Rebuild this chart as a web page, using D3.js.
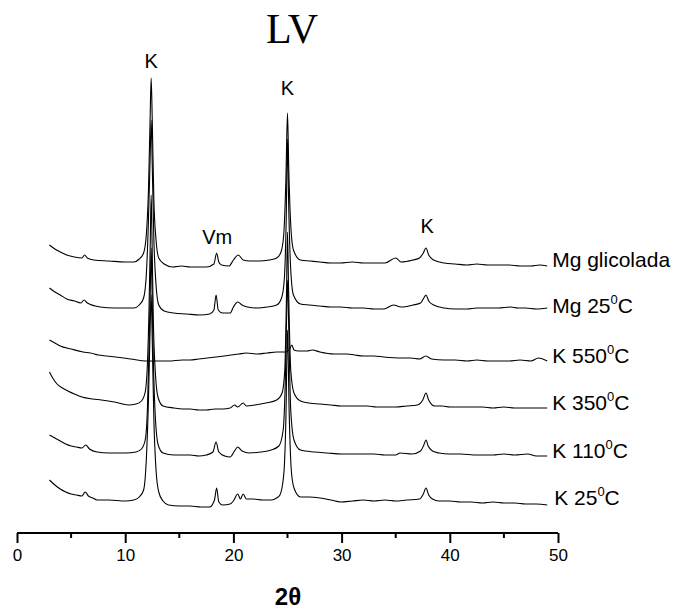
<!DOCTYPE html>
<html>
<head>
<meta charset="utf-8">
<script src="https://cdn.jsdelivr.net/npm/d3@7"></script>
<style>
  html, body { margin: 0; padding: 0; background: #fff; }
  svg { display: block; }
</style>
</head>
<body>
<svg id="chart" width="679" height="609"></svg>
<script>
// Diffractograms of sample LV, stacked with a vertical offset per treatment.
// Each series is a list of [2θ (degrees), relative intensity above its own baseline].

const seriesNames = ["Mg glicolada", "Mg 25", "K 550", "K 350", "K 110", "K 25"];
const seriesOffsets = [271, 225, 175, 128, 80, 33];

const mgGlicolada = [
  [3.0,17],[3.5,13],[4.0,10],[4.6,7],[5.3,5],[6.0,4],[6.25,7],[6.5,4],[7.1,2],[8.5,1],
  [10.0,0],[10.8,0],[11.3,3],[11.7,9],[11.95,27],[12.15,72],[12.3,142],[12.4,184],[12.5,142],
  [12.65,62],[12.85,22],[13.1,4],[13.6,-2],[14.4,-5],[15.2,-4],[16.0,-5],[17.5,-5],[18.2,-2],
  [18.45,9],[18.65,0],[18.9,-3],[19.6,-4],[20.0,2],[20.45,7],[20.9,2],[21.5,1],[22.4,1],
  [23.3,2],[24.0,4],[24.4,10],[24.65,27],[24.85,82],[25.0,149],[25.12,92],[25.3,37],[25.55,12],
  [26.2,2],[27.1,1],[28.0,0],[29.0,-1],[29.9,-1],[31.0,0],[32.0,-1],[33.0,-1],[34.0,-1],[35.0,4],[35.5,0],
  [36.6,2],[37.2,4],[37.55,9],[37.8,14],[38.05,7],[38.5,2],[39.5,-1],[40.5,-2],[41.6,-3],
  [42.5,-2],[43.5,-3],[44.5,-3],[45.5,-3],[46.5,-4],[47.5,-4],[48.3,-3],[49.0,-4]
];

const mg25 = [
  [3.0,20],[3.5,16],[4.0,13],[4.6,9],[5.3,7],[5.9,5],[6.2,8],[6.5,5],[7.7,1],[9.0,0],
  [10.8,0],[11.3,3],[11.7,10],[11.95,33],[12.15,88],[12.3,148],[12.4,188],[12.5,143],
  [12.65,68],[12.85,23],[13.1,3],[13.6,-3],[14.5,-5],[15.7,-6],[16.9,-7],[17.8,-6],[18.2,-2],
  [18.4,13],[18.6,-2],[19.0,-5],[19.7,-5],[20.0,1],[20.4,6],[20.8,3],[21.3,1],[22.2,0],
  [23.1,1],[24.0,3],[24.45,10],[24.7,28],[24.88,88],[25.0,169],[25.1,108],[25.3,38],[25.55,13],
  [26.2,4],[27.0,3],[28.0,2],[29.0,1],[29.9,1],[31.0,0],[32.0,0],[33.0,-1],[33.9,-1],[34.8,3],
  [35.5,1],[36.6,3],[37.3,5],[37.6,10],[37.8,13],[38.05,7],[38.5,3],[39.5,0],[40.5,-1],
  [41.6,-1],[42.5,0],[43.5,0],[44.5,0],[45.6,1],[46.3,0],[47.0,0],[48.0,-1],[49.0,0]
];

const k550 = [
  [3.0,18],[3.5,15],[4.0,12],[5.0,9],[6.1,6],[6.8,5],[7.5,3],[8.3,2],[9.1,1],[10.5,-1],
  [11.9,-3],[13.0,-3],[14.0,-3],[15.3,-2],[16.0,-2],[16.8,-1],[17.6,0],[18.4,1],[19.8,3],
  [20.5,4],[21.2,5],[22.2,4],[23.1,5],[24.0,6],[24.8,6],[25.2,9],[25.4,13],[25.6,8],[26.0,7],
  [26.8,7],[27.3,8],[28.0,6],[29.3,4],[30.5,4],[31.2,3],[32.0,2],[33.0,2],[33.9,1],[35.5,0],
  [36.4,0],[37.2,-1],[37.8,2],[38.3,-1],[39.5,-2],[40.5,-2],[41.6,-3],[42.5,-2],[43.5,-3],
  [44.5,-3],[45.5,-3],[46.5,-2],[47.5,-3],[48.2,0],[49.0,-3]
];

const k350 = [
  [3.0,33],[3.3,27],[3.7,21],[4.2,17],[4.7,14],[5.3,11],[6.0,8],[7.0,6],[7.8,5],[9.0,3],
  [10.3,0],[11.0,1],[11.5,4],[11.85,13],[12.05,40],[12.2,95],[12.32,165],[12.4,210],[12.48,165],
  [12.6,85],[12.8,30],[13.05,7],[13.5,-1],[14.5,-3],[15.3,-4],[16.0,-4],[16.8,-5],[17.5,-5],
  [18.3,-4],[19.0,-4],[19.7,-3],[20.1,0],[20.4,-2],[20.9,2],[21.2,-1],[22.0,0],[23.0,2],
  [24.0,5],[24.5,12],[24.75,35],[24.9,105],[25.0,173],[25.1,115],[25.3,35],[25.6,12],[26.2,4],
  [27.0,2],[28.0,1],[29.0,0],[30.0,-1],[31.2,-1],[32.4,-1],[33.2,-2],[34.0,-2],[35.0,-2],[36.0,-1],
  [37.0,0],[37.5,5],[37.8,12],[38.05,5],[38.6,-1],[39.3,-1],[40.0,-2],[41.0,-2],[42.0,-2],
  [43.0,-2],[44.0,-3],[45.0,-2],[46.0,-3],[47.0,-3],[48.0,-3],[49.0,-3]
];

const k110 = [
  [3.0,18],[3.5,15],[4.0,12],[4.5,9],[5.0,7],[5.5,6],[6.0,5],[6.35,8],[6.7,4],[7.4,1],
  [8.5,0],[10.0,0],[11.0,1],[11.5,4],[11.85,13],[12.05,43],[12.2,103],[12.32,163],[12.4,205],
  [12.48,163],[12.6,93],[12.8,33],[13.05,8],[13.5,0],[14.5,-2],[15.3,-2],[16.0,-2],[16.8,-3],
  [17.5,-2],[18.1,1],[18.4,11],[18.65,1],[19.2,-3],[19.7,-4],[20.1,2],[20.4,6],[20.8,2],
  [21.5,0],[22.5,1],[23.5,3],[24.2,7],[24.6,23],[24.8,73],[24.95,153],[25.02,173],[25.1,133],
  [25.3,43],[25.6,13],[26.2,3],[27.5,1],[28.7,0],[30.0,-1],[31.5,-1],[33.0,-1],[34.0,-2],[35.0,-2],[35.4,0],
  [36.5,-1],[37.3,2],[37.6,8],[37.8,13],[38.0,7],[38.4,2],[39.0,0],[40.0,-1],[41.0,-1],
  [42.5,-2],[44.0,-2],[45.0,-1],[46.0,-2],[47.2,-1],[48.0,-3],[49.0,-3]
];

const k25 = [
  [3.0,20],[3.5,15],[4.0,11],[4.5,8],[5.0,6],[5.5,5],[6.0,4],[6.3,8],[6.6,4],[7.0,2],
  [7.4,0],[8.5,0],[10.0,-1],[10.8,0],[11.3,3],[11.7,10],[11.95,40],[12.15,100],[12.3,170],
  [12.4,205],[12.5,160],[12.65,80],[12.85,30],[13.1,8],[13.5,-1],[14.0,-5],[15.0,-6],
  [16.0,-6],[17.0,-7],[17.8,-7],[18.25,0],[18.45,12],[18.65,-2],[19.0,-5],[19.7,-4],[20.0,-1],
  [20.4,6],[20.65,1],[20.9,6],[21.2,1],[21.8,1],[22.7,0],[23.5,0],[24.0,2],[24.3,5],[24.65,25],
  [24.85,80],[25.0,170],[25.15,90],[25.35,30],[25.6,12],[26.2,3],[27.0,3],[28.0,2],[29.0,0],
  [29.9,-2],[31.0,-1],[32.0,0],[33.0,-1],[34.0,0],[35.0,-1],[36.0,0],[37.2,1],[37.55,6],
  [37.8,12],[38.05,5],[38.4,1],[39.0,-1],[40.0,-1],[41.0,-2],[42.0,-2],[43.0,-3],[44.0,-2],
  [45.0,-3],[46.0,-3],[47.0,-4],[48.0,-4],[49.0,-5]
];

const seriesData = [mgGlicolada, mg25, k550, k350, k110, k25];

// Right-hand labels: main text and the trailing temperature part (with superscript degree)
const labelMain = ["Mg glicolada", "Mg 25", "K 550", "K 350", "K 110", "K 25"];
const labelTemp = [false, true, true, true, true, true];

// Reflection annotations: position in 2θ and height in intensity units
const peakLabels = ["K", "K", "Vm", "K"];
const peakPos = [12.4, 25.0, 18.5, 37.9];
const peakHeight = [465, 438, 289, 300];

const xTicks = [0, 10, 20, 30, 40, 50];
const xMinorTicks = [5, 15, 25, 35, 45];

const svg = d3.select("#chart");

const x = d3.scaleLinear().domain([0, 50]).range([17, 558]);
const y = d3.scaleLinear().domain([0, 470]).range([533, 63]);

// Title
svg.append("text")
  .attr("x", 292).attr("y", 43)
  .attr("text-anchor", "middle")
  .style("font-family", "'Liberation Serif', 'Times New Roman', serif")
  .style("font-size", "42px")
  .attr("fill", "#000")
  .text("LV");

// Traces
const line = d3.line()
  .x(d => x(d[0]))
  .curve(d3.curveMonotoneX);

seriesData.forEach((data, i) => {
  line.y(d => y(d[1] + seriesOffsets[i]));
  svg.append("path")
    .datum(data)
    .attr("fill", "none")
    .attr("stroke", "#000")
    .attr("stroke-width", 1.1)
    .attr("stroke-linejoin", "round")
    .attr("d", line);
});

// Series labels at the right end of each trace
const labelFont = "'Liberation Sans', Arial, sans-serif";
seriesNames.forEach((name, i) => {
  const t = svg.append("text")
    .attr("x", x(49) + 5 + (i === 5 ? 2 : 0))
    .attr("y", y(seriesOffsets[i]) + 5)
    .style("font-family", labelFont)
    .style("font-size", "21px")
    .attr("fill", "#000");
  t.append("tspan").text(labelMain[i]);
  if (labelTemp[i]) {
    t.append("tspan").attr("dy", -9).style("font-size", "13px").text("0");
    t.append("tspan").attr("dy", 9).text("C");
  }
});

// Peak annotations
peakLabels.forEach((lab, i) => {
  svg.append("text")
    .attr("x", x(peakPos[i]))
    .attr("y", y(peakHeight[i]))
    .attr("text-anchor", "middle")
    .style("font-family", labelFont)
    .style("font-size", "20px")
    .attr("fill", "#000")
    .text(lab);
});

// Bottom axis
const axisG = svg.append("g").attr("transform", `translate(0,${y(0)})`);
axisG.call(d3.axisBottom(x).tickValues(xTicks).tickSize(10).tickPadding(6).tickFormat(d3.format("d")));
axisG.call(g => g.select(".domain").attr("d", `M${x(0)},0H${x(50)}`).attr("stroke-width", 2));
axisG.selectAll(".tick line").attr("stroke-width", 2);
axisG.selectAll(".tick text")
  .style("font-family", labelFont)
  .style("font-size", "17px")
  .attr("fill", "#000");
axisG.selectAll(".minor")
  .data(xMinorTicks)
  .enter().append("line")
  .attr("class", "minor")
  .attr("x1", d => x(d)).attr("x2", d => x(d))
  .attr("y1", 0).attr("y2", 5)
  .attr("stroke", "#000").attr("stroke-width", 2);

// Axis title
svg.append("text")
  .attr("x", 288).attr("y", 605)
  .attr("text-anchor", "middle")
  .style("font-family", labelFont)
  .style("font-size", "24px")
  .style("font-weight", "bold")
  .attr("fill", "#000")
  .text("2θ");
</script>
</body>
</html>
